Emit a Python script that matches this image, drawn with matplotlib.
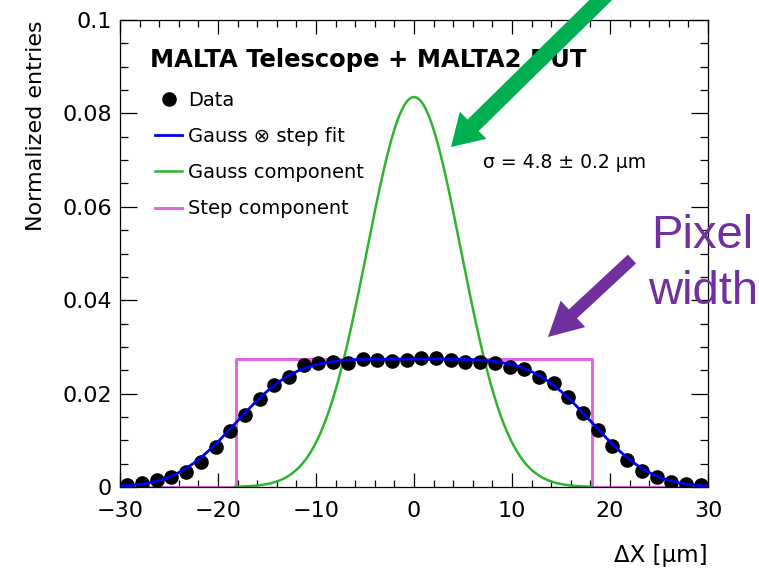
import math

import matplotlib
matplotlib.use("Agg")
import matplotlib.pyplot as plt
import numpy as np
from matplotlib.patches import FancyArrow
from matplotlib.ticker import MultipleLocator, FuncFormatter

# ---- data ----
DX = [-29.25, -27.75, -26.25, -24.75, -23.25, -21.75, -20.25, -18.75, -17.25, -15.75,
      -14.25, -12.75, -11.25, -9.75, -8.25, -6.75, -5.25, -3.75, -2.25, -0.75,
      0.75, 2.25, 3.75, 5.25, 6.75, 8.25, 9.75, 11.25, 12.75, 14.25,
      15.75, 17.25, 18.75, 20.25, 21.75, 23.25, 24.75, 26.25, 27.75, 29.25]
ENTRIES = [0.0004, 0.0008, 0.0014, 0.0021, 0.0033, 0.0054, 0.0085, 0.0120, 0.0154, 0.0188,
           0.0218, 0.0236, 0.0261, 0.0265, 0.0267, 0.0265, 0.0274, 0.0272, 0.0270, 0.0272,
           0.0276, 0.0277, 0.0272, 0.0268, 0.0267, 0.0265, 0.0258, 0.0252, 0.0236, 0.0222,
           0.0193, 0.0158, 0.0122, 0.0088, 0.0058, 0.0035, 0.0021, 0.0011, 0.0006, 0.0004]

# fit parameters shown in the plot (Gauss (x) step model)
SIGMA = 4.8            # um
HALF_PITCH = 18.2      # um, step edges at +-18.2
STEP_HEIGHT = 0.0274
GAUSS_PEAK = 0.0835

LEGEND_LABELS = ["Data", "Gauss \u2297 step fit", "Gauss component", "Step component"]

BLUE, GREEN, MAGENTA = "#0000ee", "#2db52d", "#e660e6"
ARROW_GREEN, PURPLE = "#00b050", "#7030a0"


def conv_fit(x):
    s = math.sqrt(2) * SIGMA
    return np.array([0.5 * STEP_HEIGHT * (math.erf((v + HALF_PITCH) / s) - math.erf((v - HALF_PITCH) / s))
                     for v in x])


def main():
    plt.rcParams["font.family"] = ["DejaVu Sans"]
    fig = plt.figure(figsize=(7.59, 5.69), dpi=100)
    W, H = 759, 569
    L, R, T, B = 120, 708, 20, 487
    ax = fig.add_axes([L / W, (H - B) / H, (R - L) / W, (B - T) / H])

    xs = np.linspace(-30, 30, 1201)
    step_x = [-30, -HALF_PITCH, -HALF_PITCH, HALF_PITCH, HALF_PITCH, 30]
    step_y = [0, 0, STEP_HEIGHT, STEP_HEIGHT, 0, 0]

    ax.plot(DX, ENTRIES, "o", color="black", ms=9.5, zorder=3, label=LEGEND_LABELS[0])
    ax.plot(step_x, step_y, color=MAGENTA, lw=2.1, zorder=2, label=LEGEND_LABELS[3])
    gx = xs[np.abs(xs) <= HALF_PITCH]
    ax.plot(gx, GAUSS_PEAK * np.exp(-gx ** 2 / (2 * SIGMA ** 2)), color=GREEN, lw=1.8, zorder=2,
            label=LEGEND_LABELS[2])
    ax.plot(xs, conv_fit(xs), color=BLUE, lw=2.0, zorder=4, label=LEGEND_LABELS[1])

    ax.set_xlim(-30, 30)
    ax.set_ylim(0, 0.1)
    ax.xaxis.set_major_locator(MultipleLocator(10))
    ax.xaxis.set_minor_locator(MultipleLocator(2))
    ax.yaxis.set_major_locator(MultipleLocator(0.02))
    ax.yaxis.set_minor_locator(MultipleLocator(0.005))
    ax.yaxis.set_major_formatter(FuncFormatter(lambda v, p: f"{v:g}"))
    ax.tick_params(which="both", direction="in", top=True, right=True, labelsize=16, width=0.9)
    ax.tick_params(axis="x", which="major", length=10, pad=10)
    ax.tick_params(axis="x", which="minor", length=5)
    ax.tick_params(axis="y", which="major", length=12, pad=6)
    ax.tick_params(axis="y", which="minor", length=6)
    for sp in ax.spines.values():
        sp.set_linewidth(0.9)

    ax.set_xlabel("\u0394X [\u03bcm]", fontsize=16.5, loc="right")
    ax.xaxis.set_label_coords(1.0, -0.122)
    ax.set_ylabel("Normalized entries", fontsize=16, loc="top")
    ax.yaxis.set_label_coords(-0.126, 1.0)

    ax.text(0.051, 0.90, "MALTA Telescope + MALTA2 DUT", transform=ax.transAxes,
            fontsize=17.5, fontweight="bold", va="baseline", ha="left")
    ax.text(0.618, 0.6825, "\u03c3 = 4.8 \u00b1 0.2 \u03bcm", transform=ax.transAxes,
            fontsize=13.5, va="baseline", ha="left")

    handles, labels = ax.get_legend_handles_labels()
    order = [labels.index(lbl) for lbl in LEGEND_LABELS]
    ax.legend([handles[i] for i in order], [labels[i] for i in order],
              loc="upper left", bbox_to_anchor=(0.0595, 0.849), frameon=False,
              fontsize=14, handlelength=1.4, handletextpad=0.3, labelspacing=0.89,
              borderpad=0, borderaxespad=0)

    # annotation arrows and label, in figure pixels
    px = fig.dpi_scale_trans

    def arrow(x0, y0, x1, y1, w, hw, hl, color):
        a = FancyArrow(x0 / 100, (H - y0) / 100, (x1 - x0) / 100, -(y1 - y0) / 100,
                       width=w / 100, head_width=hw / 100, head_length=hl / 100,
                       length_includes_head=True, color=color, lw=0, transform=px, zorder=10)
        fig.add_artist(a)

    arrow(616, -15, 451, 147, 16, 38, 31, ARROW_GREEN)
    arrow(632, 259, 548, 337, 12, 36, 34, PURPLE)
    fig.text(702 / 100, (H - 248) / 100, "Pixel", transform=px, fontsize=34, color=PURPLE,
             family="Liberation Sans", ha="center", va="baseline")
    fig.text(703 / 100, (H - 304) / 100, "width", transform=px, fontsize=34, color=PURPLE,
             family="Liberation Sans", ha="center", va="baseline")

    fig.savefig("out.png", dpi=100)


if __name__ == "__main__":
    main()
